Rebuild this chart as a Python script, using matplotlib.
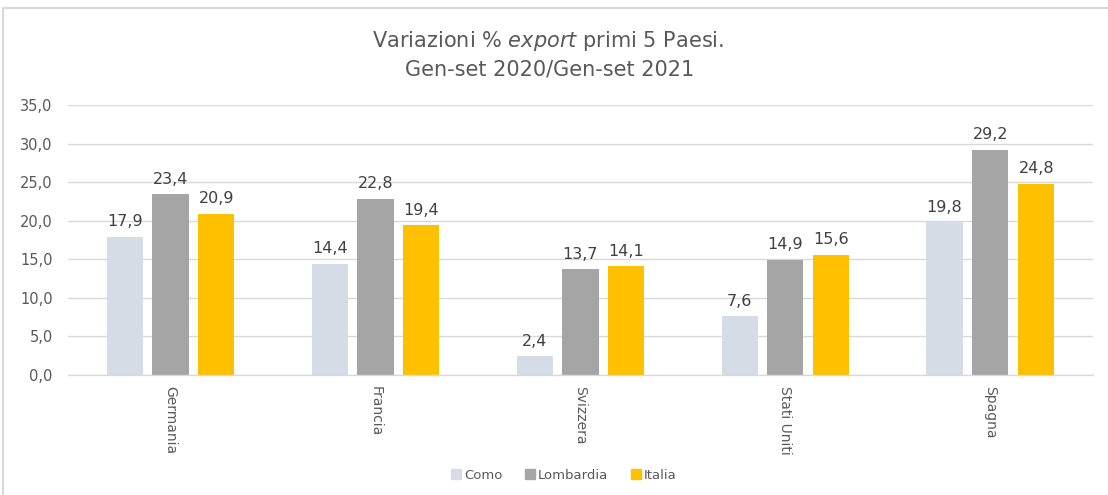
import numpy as np
import matplotlib
matplotlib.use("Agg")
import matplotlib.pyplot as plt
from matplotlib.lines import Line2D

paesi = ["Germania", "Francia", "Svizzera", "Stati Uniti", "Spagna"]
como = [17.9, 14.4, 2.4, 7.6, 19.8]
lombardia = [23.4, 22.8, 13.7, 14.9, 29.2]
italia = [20.9, 19.4, 14.1, 15.6, 24.8]
serie = ["Como", "Lombardia", "Italia"]
colori = ["#D6DCE5", "#A5A5A5", "#FFC000"]
y_ticks = [0, 5, 10, 15, 20, 25, 30, 35]

fig = plt.figure(figsize=(11.08, 4.95), dpi=100)
ax = fig.add_axes([0.0614, 0.2424, 0.925, 0.5455])

x = np.arange(len(paesi))
width = 0.176
step = 0.224
for i, (vals, nome, col) in enumerate(zip([como, lombardia, italia], serie, colori)):
    pos = x + (i - 1) * step
    bars = ax.bar(pos, vals, width, color=col, label=nome, zorder=3)
    for b, v in zip(bars, vals):
        ax.annotate(f"{v:.1f}".replace(".", ","),
                    (b.get_x() + b.get_width() / 2, b.get_height()),
                    xytext=(0, 5.5), textcoords="offset points",
                    ha="center", va="bottom", fontsize=11.5, color="#404040")

ax.set_xlim(-0.5, len(paesi) - 0.5)
ax.set_ylim(0, 35)
ax.set_yticks(y_ticks)
ax.set_yticklabels([f"{t:.1f}".replace(".", ",") for t in y_ticks],
                   fontsize=10.5, color="#595959")
ax.set_xticks(x)
ax.set_xticklabels(paesi, rotation=270, fontsize=10, color="#595959")
ax.tick_params(length=0, pad=11)
ax.tick_params(axis="x", pad=8)
ax.grid(axis="y", color="#D9D9D9", linewidth=1, zorder=0)
for s in ["top", "right", "left"]:
    ax.spines[s].set_visible(False)
ax.spines["bottom"].set_color("#D9D9D9")
ax.spines["bottom"].set_linewidth(1)
ax.spines["bottom"].set_zorder(4)

fig.text(0.495, 0.917, "Variazioni % $\\mathit{export}$ primi 5 Paesi.",
         ha="center", va="center", fontsize=15, color="#595959")
fig.text(0.496, 0.859, "Gen-set 2020/Gen-set 2021",
         ha="center", va="center", fontsize=15, color="#595959")

handles = [Line2D([], [], marker="s", linestyle="", markersize=7,
                  markerfacecolor=c, markeredgecolor=c) for c in colori]
fig.legend(handles, serie, loc="center", bbox_to_anchor=(0.508, 0.04),
           ncol=3, frameon=False, fontsize=9.5, labelcolor="#595959",
           handletextpad=0.1, columnspacing=1.6, handlelength=1.0)

# chart frame (top and left edges visible)
fig.add_artist(Line2D([0.003, 1.0], [0.984, 0.984], color="#D9D9D9", linewidth=1.5))
fig.add_artist(Line2D([0.003, 0.003], [0.0, 0.984], color="#D9D9D9", linewidth=1.5))

fig.savefig("out.png", dpi=100)
